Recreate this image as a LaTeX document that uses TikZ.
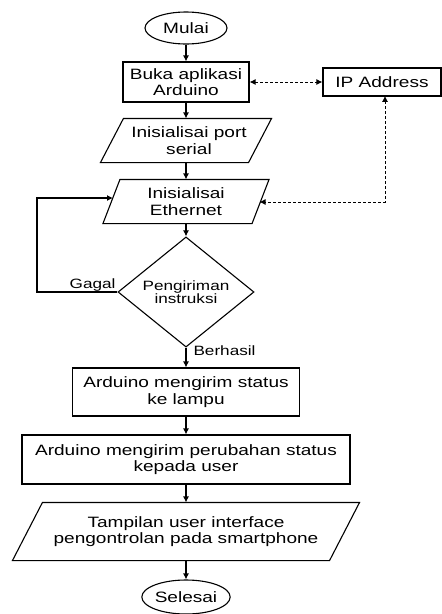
\documentclass[tikz,border=0pt]{standalone}
\usepackage{fontspec}
\setmainfont{Liberation Sans}[FakeStretch=1.27]
\usetikzlibrary{shapes.geometric,arrows.meta,calc}
\begin{document}
\begin{tikzpicture}[x=1pt,y=-1pt, line width=1.1pt,
 base/.style={inner sep=0pt, align=center, font=\fontsize{15}{16.7}\selectfont},
 term/.style={base, ellipse, draw},
 proc/.style={base, rectangle, draw},
 io/.style={base, rectangle},
 lbl/.style={inner sep=0pt, font=\fontsize{13.5}{13.5}\selectfont},
 arr/.style={-{Latex[length=6pt,width=6pt]}},
 darr/.style={{Latex[length=6pt,width=6pt]}-{Latex[length=6pt,width=6pt]}},
 dsh/.style={dash pattern=on 2.5pt off 2.5pt, line width=1pt}]
\useasboundingbox (0,0) rectangle (442,614);

\node[term, minimum width=82pt, minimum height=32pt] (mulai) at (186,28) {Mulai};
\node[proc, minimum width=126pt, minimum height=40pt] (buka) at (186,82) {Buka aplikasi\\Arduino};
\node[proc, minimum width=118pt, minimum height=28pt] (ip) at (382,82) {IP Address};

\node[io, minimum width=170pt, minimum height=43pt] (p1) at (186,140.5) {\hspace*{6pt}Inisialisai port\\\hspace*{6pt}serial};
\draw ([xshift=23pt]p1.north west) -- (p1.north east) -- ([xshift=-23pt]p1.south east) -- (p1.south west) -- cycle;

\node[io, minimum width=165pt, minimum height=43pt] (p2) at (186,201.5) {Inisialisai\\Ethernet};
\draw ([xshift=17pt]p2.north west) -- (p2.north east) -- ([xshift=-17pt]p2.south east) -- (p2.south west) -- cycle;

\node[base, diamond, draw, minimum width=136pt, minimum height=100pt, font=\fontsize{13.5}{13.5}\selectfont] (dia) at (186,292) {Pengiriman\\instruksi};

\node[proc, minimum width=227pt, minimum height=48pt] (b3) at (186,392) {Arduino mengirim status\\ke lampu};
\node[proc, minimum width=328pt, minimum height=49pt] (b4) at (186,459.5) {Arduino mengirim perubahan status\\kepada user};

\node[io, minimum width=346pt, minimum height=57pt] (p3) at (186,531.5) {Tampilan user interface\\pengontrolan pada smartphone};
\draw ([xshift=30pt]p3.north west) -- (p3.north east) -- ([xshift=-30pt]p3.south east) -- (p3.south west) -- cycle;

\node[term, minimum width=87pt, minimum height=34pt] (selesai) at (186,597) {Selesai};

\node[lbl, anchor=base east] (gagal) at (116,288) {Gagal};
\node[lbl, anchor=base west] (berhasil) at (193,355) {Berhasil};

\coordinate (p2l) at (113,198);
\coordinate (p2r) at (259.5,202);
\coordinate (lp) at (37,0);
\coordinate (ipb) at (385,95.8);

\draw[arr] (mulai) -- (buka);
\draw[arr] (buka) -- (p1);
\draw[arr] (p1) -- (p2);
\draw[arr] (p2) -- (dia);
\draw[arr] (dia) -- (b3);
\draw[arr] (b3) -- (b4);
\draw[arr] (b4) -- (p3);
\draw[arr] (p3) -- (selesai);
\draw[arr] (dia.west) -- (dia.west -| lp) |- (p2l);
\draw[dsh, darr] (buka.east) -- (ip.west);
\draw[dsh, darr] (ipb) |- (p2r);
\end{tikzpicture}
\end{document}
